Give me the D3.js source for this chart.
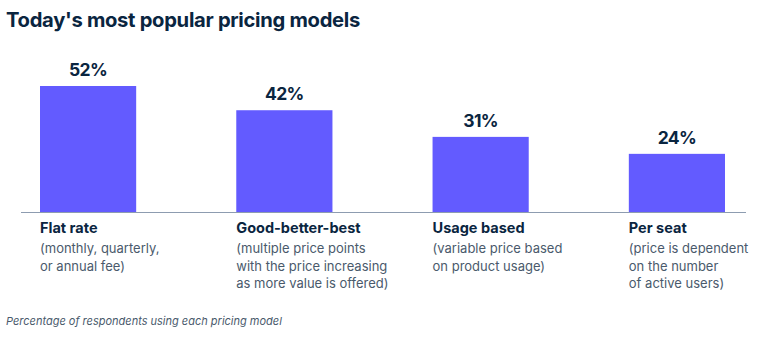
<!DOCTYPE html>
<html>
<head>
<meta charset="utf-8">
<script src="https://cdn.jsdelivr.net/npm/d3@7"></script>
<style>
  html, body { margin: 0; padding: 0; background: #fff; }
  svg { display: block; font-family: Inter, "Noto Sans", sans-serif; }
</style>
</head>
<body>
<script>
// pricing model survey data
var categories = ["Flat rate", "Good-better-best", "Usage based", "Per seat"];
var shares = [52, 42, 31, 24];
var notes = [
  ["(monthly, quarterly,", "or annual fee)"],
  ["(multiple price points", "with the price increasing", "as more value is offered)"],
  ["(variable price based", "on product usage)"],
  ["(price is dependent", "on the number", "of active users)"]
];

var width = 780, height = 347;
var baseY = 212;
var ink = "#0a2540";
var grey = "#4a5a6c";

var svg = d3.select("body").append("svg")
  .attr("width", width)
  .attr("height", height);

svg.append("text")
  .attr("x", 6)
  .attr("y", 27)
  .attr("font-size", 20.2)
  .attr("font-weight", 700)
  .attr("fill", ink)
  .attr("letter-spacing", -0.3)
  .text("Today's most popular pricing models");

var x = d3.scaleBand()
  .domain(categories)
  .range([40, 725])
  .paddingInner(0.51)
  .paddingOuter(0);

var y = d3.scaleLinear()
  .domain([0, 52])
  .range([baseY, 86]);

var data = categories.map(function(c, i) {
  return {name: c, value: shares[i], note: notes[i]};
});

svg.selectAll("rect.bar")
  .data(data)
  .enter()
  .append("rect")
  .attr("class", "bar")
  .attr("x", function(d) { return x(d.name); })
  .attr("y", function(d) { return y(d.value); })
  .attr("width", x.bandwidth())
  .attr("height", function(d) { return baseY - y(d.value); })
  .attr("fill", "#635bff");

svg.append("line")
  .attr("x1", 21)
  .attr("x2", 746)
  .attr("y1", baseY + 0.5)
  .attr("y2", baseY + 0.5)
  .attr("stroke", "#8d9cb0")
  .attr("stroke-width", 1.2);

svg.selectAll("text.value")
  .data(data)
  .enter()
  .append("text")
  .attr("class", "value")
  .attr("x", function(d) { return x(d.name) + x.bandwidth() / 2; })
  .attr("y", function(d) { return y(d.value) - 10; })
  .attr("text-anchor", "middle")
  .attr("font-size", 17.5)
  .attr("font-weight", 700)
  .attr("letter-spacing", -0.6)
  .attr("fill", ink)
  .text(function(d) { return d.value + "%"; });

var labels = svg.selectAll("g.label")
  .data(data)
  .enter()
  .append("g")
  .attr("class", "label")
  .attr("transform", function(d) { return "translate(" + x(d.name) + ",0)"; });

labels.append("text")
  .attr("y", 233)
  .attr("font-size", 14.5)
  .attr("font-weight", 700)
  .attr("fill", ink)
  .text(function(d) { return d.name; });

labels.selectAll("text.note")
  .data(function(d) { return d.note; })
  .enter()
  .append("text")
  .attr("class", "note")
  .attr("y", function(d, i) { return 253 + i * 17.7; })
  .attr("font-size", 13)
  .attr("fill", grey)
  .text(function(d) { return d; });

svg.append("text")
  .attr("x", 6)
  .attr("y", 325)
  .attr("font-size", 11)
  .attr("font-style", "italic")
  .attr("fill", grey)
  .text("Percentage of respondents using each pricing model");
</script>
</body>
</html>
